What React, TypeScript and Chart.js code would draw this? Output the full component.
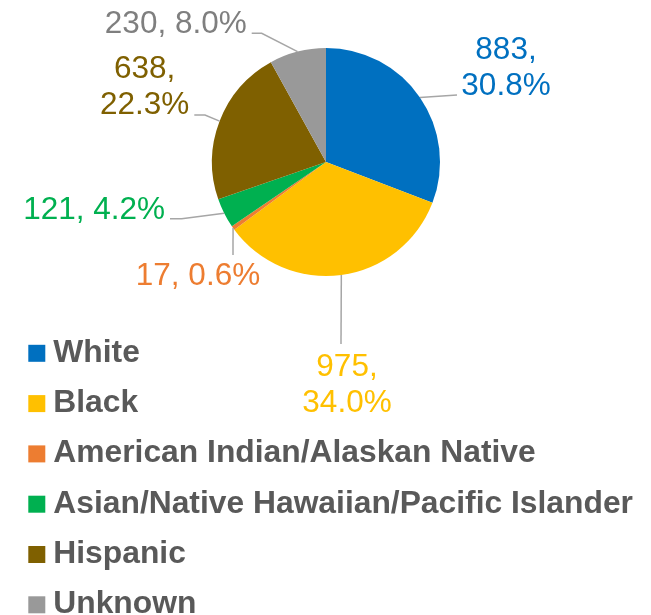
import React, { useEffect, useRef } from "react";
import { Chart, registerables } from "chart.js";

Chart.register(...registerables);

const categories = [
  "White",
  "Black",
  "American Indian/Alaskan Native",
  "Asian/Native Hawaiian/Pacific Islander",
  "Hispanic",
  "Unknown",
];
const counts = [883, 975, 17, 121, 638, 230];
const sliceColors = ["#0070C0", "#FFC000", "#ED7D31", "#00B050", "#7F6000", "#999999"];
const labelColors = ["#0070C0", "#FFC000", "#ED7D31", "#00B050", "#7F6000", "#7F7F7F"];
const labelTwoLines = [true, true, false, false, true, false];

// Label layout relative to pie centre: text anchor x, first baseline y, alignment, leader-line bend points
const labelLayout: { x: number; y: number; align: CanvasTextAlign; path: number[][] }[] = [
  { x: 180, y: -103, align: "center", path: [[131, -67]] },
  { x: 21, y: 214, align: "center", path: [[15, 182]] },
  { x: -128, y: 123, align: "center", path: [[-93, 93]] },
  { x: -161, y: 56.5, align: "right", path: [[-144.3, 56.7], [-156, 56.7]] },
  { x: -181.3, y: -83.7, align: "center", path: [[-121, -47], [-131.7, -47]] },
  { x: -79.3, y: -128.7, align: "right", path: [[-64.3, -128.7], [-74.3, -128.7]] },
];

const FONT = '"Liberation Sans", Arial, sans-serif';

const labelsPlugin = {
  id: "pieLabels",
  afterDraw(chart: any) {
    const ctx: CanvasRenderingContext2D = chart.ctx;
    const meta = chart.getDatasetMeta(0);
    const total = counts.reduce((a, b) => a + b, 0);
    ctx.save();
    meta.data.forEach((arc: any, i: number) => {
      const p = arc.getProps(["x", "y", "startAngle", "endAngle", "outerRadius"], true);
      const mid = (p.startAngle + p.endAngle) / 2;
      const sx = p.x + Math.cos(mid) * p.outerRadius;
      const sy = p.y + Math.sin(mid) * p.outerRadius;
      const lay = labelLayout[i];
      ctx.beginPath();
      ctx.moveTo(sx, sy);
      lay.path.forEach(([dx, dy]) => ctx.lineTo(p.x + dx, p.y + dy));
      ctx.strokeStyle = "#A6A6A6";
      ctx.lineWidth = 1.5;
      ctx.stroke();

      const pct = ((counts[i] / total) * 100).toFixed(1) + "%";
      const lines = labelTwoLines[i] ? [counts[i] + ",", pct] : [counts[i] + ", " + pct];
      ctx.font = `31.5px ${FONT}`;
      ctx.fillStyle = labelColors[i];
      ctx.textAlign = lay.align;
      ctx.textBaseline = "alphabetic";
      lines.forEach((t, k) => ctx.fillText(t, p.x + lay.x, p.y + lay.y + k * 35.5));
    });

    // legend
    ctx.font = `bold 31.8px ${FONT}`;
    ctx.textAlign = "left";
    ctx.textBaseline = "alphabetic";
    categories.forEach((c, i) => {
      const base = 361.8 + i * 50.3;
      ctx.fillStyle = sliceColors[i];
      ctx.fillRect(28.3, base - 17, 17, 17);
      ctx.fillStyle = "#595959";
      ctx.fillText(c, 53.3, base);
    });
    ctx.restore();
  },
};

export default function App() {
  const ref = useRef<HTMLCanvasElement | null>(null);
  useEffect(() => {
    if (!ref.current) return;
    const chart = new Chart(ref.current, {
      type: "pie",
      data: {
        labels: categories,
        datasets: [
          {
            data: counts,
            backgroundColor: sliceColors,
            borderWidth: 0,
          },
        ],
      },
      options: {
        responsive: false,
        animation: false,
        devicePixelRatio: 1,
        layout: { padding: { left: 212, right: 211, top: 48, bottom: 339 } },
        plugins: {
          legend: { display: false },
          tooltip: { enabled: false },
        },
      },
      plugins: [labelsPlugin],
    });
    return () => chart.destroy();
  }, []);
  return (
    <div style={{ position: "fixed", left: 0, top: 0, width: 651, height: 615, background: "#fff" }}>
      <canvas ref={ref} width={651} height={615} style={{ display: "block" }} />
    </div>
  );
}
